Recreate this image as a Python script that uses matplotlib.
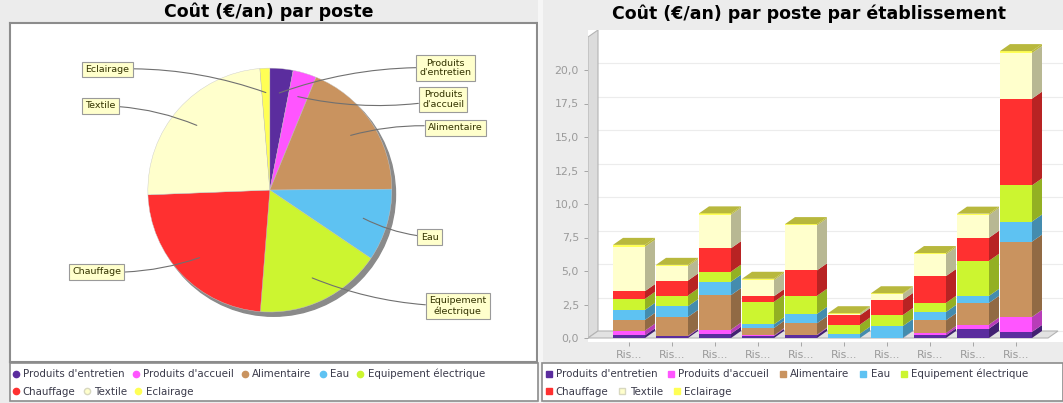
import numpy as np
import matplotlib.pyplot as plt
import matplotlib.colors as mcolors
from matplotlib.lines import Line2D
from matplotlib.patches import Circle, Polygon, Rectangle

W, H = 1063, 403

postes = ["Produits d'entretien", "Produits d'accueil", 'Alimentaire', 'Eau',
          'Equipement électrique', 'Chauffage', 'Textile', 'Eclairage']
pie_labels = ["Produits\nd'entretien", "Produits\nd'accueil", 'Alimentaire', 'Eau',
              'Equipement\nélectrique', 'Chauffage', 'Textile', 'Eclairage']
couleurs = ['#5b2d9e', '#ff55ff', '#c9935f', '#5ec2f2',
            '#ccf530', '#ff3030', '#ffffcc', '#ffff55']

etablissements = ['Ris...'] * 10
entretien = [0.2, 0.12, 0.32, 0.15, 0.2, 0.0, 0.02, 0.2, 0.7, 0.45]
accueil = [0.35, 0.05, 0.3, 0.05, 0.05, 0.0, 0.0, 0.17, 0.3, 1.12]
alimentaire = [0.8, 1.4, 2.58, 0.55, 0.85, 0.0, 0.0, 0.95, 1.62, 5.62]
eau = [0.75, 0.8, 1.0, 0.27, 0.7, 0.32, 0.88, 0.62, 0.52, 1.5]
equipement = [0.82, 0.8, 0.75, 1.68, 1.35, 0.68, 0.82, 0.68, 2.62, 2.7]
chauffage = [0.58, 1.12, 1.75, 0.42, 1.9, 0.7, 1.12, 2.0, 1.72, 6.47]
textile = [3.3, 1.07, 2.5, 1.2, 3.35, 0.1, 0.45, 1.62, 1.7, 3.4]
eclairage = [0.15, 0.1, 0.1, 0.1, 0.1, 0.05, 0.05, 0.1, 0.1, 0.15]
series = [entretien, accueil, alimentaire, eau, equipement, chauffage, textile, eclairage]

y_ticks = [0, 2.5, 5, 7.5, 10, 12.5, 15, 17.5, 20]

# where the pie labels sit (pie units, centre = 0,0)
label_pos = [(1.44, 1.0), (1.42, 0.74), (1.52, 0.51), (1.31, -0.385),
             (1.54, -0.95), (-1.42, -0.67), (-1.39, 0.69), (-1.33, 0.99)]


def box(x, y, w, h):
    # pixel box (top-left origin) -> figure fraction
    return [x / W, 1 - (y + h) / H, w / W, h / H]


def darker(c, f=0.72):
    r, g, b = mcolors.to_rgb(c)
    return (r * f, g * f, b * f)


fig = plt.figure(figsize=(W / 100, H / 100), dpi=100, facecolor='#ececec')

# panel gap + legend boxes
fig.patches.append(Rectangle((538 / W, 0), 5 / W, 1, transform=fig.transFigure,
                             fc='#f6f6f6', ec='none', zorder=0))
for bx in [(10, 363, 528, 38), (542, 363, 521, 38)]:
    fig.patches.append(Rectangle((bx[0] / W, 1 - (bx[1] + bx[3]) / H), bx[2] / W, bx[3] / H,
                                 transform=fig.transFigure, fc='white', ec='#8c8c8c', lw=1.2))

# ---- pie ----
ax1 = fig.add_axes(box(10, 23, 527, 339))
totals = [sum(s) for s in series]
wedges, _ = ax1.pie(totals, colors=couleurs, startangle=90, counterclock=False, radius=1,
                    wedgeprops=dict(linewidth=0.3, edgecolor='#c8c8c8'))
ax1.add_patch(Circle((0.03, -0.035), 1.0, color='#8a8a8a', zorder=0))
ax1.set_aspect('auto')
ax1.set_xlim(-2.13, 2.19)
ax1.set_ylim(-1.41, 1.37)
ax1.set_frame_on(True)
ax1.set_facecolor('white')
for sp in ax1.spines.values():
    sp.set_color('#8c8c8c')
    sp.set_linewidth(1.5)

for w, lab, pos in zip(wedges, pie_labels, label_pos):
    mid = np.radians((w.theta1 + w.theta2) / 2)
    tgt = (0.8 * np.cos(mid), 0.8 * np.sin(mid))
    rad = 0.1 * np.sign(pos[0]) * np.sign(pos[1] - tgt[1])
    ax1.annotate(lab, xy=tgt, xytext=pos, ha='center', va='center', fontsize=6.8,
                 color='#333300', linespacing=1.1,
                 bbox=dict(boxstyle='square,pad=0.35', fc='#ffffcc', ec='#9a9a9a', lw=0.8),
                 arrowprops=dict(arrowstyle='-', color='#707070', lw=0.8,
                                 connectionstyle=f'arc3,rad={rad}', shrinkA=0, shrinkB=0))

fig.text(269 / W, 1 - 12 / H, 'Coût (€/an) par poste', ha='center', va='center',
         fontsize=12.5, fontweight='bold')

# ---- 3D-look stacked bars ----
ax2 = fig.add_axes(box(588, 30, 475, 312))
xppu, yppu = 43.0, 13.4          # pixels per data unit
x_first, y_zero = 629, 338       # pixel position of first bar centre / zero line
xl = (588 - x_first) / xppu
xr = (1063 - x_first) / xppu
ytop = (y_zero - 30) / yppu
ax2.set_xlim(xl, xr)
ax2.set_ylim(-(342 - y_zero) / yppu, ytop)
dx, dy = 10 / xppu, 7 / yppu
bw = 32 / xppu
x_floor = (1048 - x_first) / xppu

ax2.set_facecolor('white')
for sp in ax2.spines.values():
    sp.set_visible(False)

for t in y_ticks:
    ax2.plot([xl + dx, xr], [t + dy, t + dy], color='#ececec', lw=0.8, zorder=1)
ax2.add_patch(Polygon([(xl, 0), (xl + dx, dy), (xl + dx, ytop), (xl, ytop - dy)],
                      fc='#dcdcdc', ec='#b4b4b4', lw=0.8, zorder=2))
ax2.add_patch(Polygon([(xl, 0), (x_floor, 0), (x_floor + dx, dy), (xl + dx, dy)],
                      fc='#e2e2e2', ec='#b4b4b4', lw=0.8, zorder=2))

x = np.arange(len(etablissements))
bottom = np.zeros(len(x))
for vals, col in zip(series, couleurs):
    vals = np.array(vals)
    ax2.bar(x, vals, width=bw, bottom=bottom, color=col, zorder=3)
    for xi, b, v in zip(x, bottom, vals):
        if v <= 0:
            continue
        ax2.add_patch(Polygon([(xi + bw / 2, b), (xi + bw / 2 + dx, b + dy),
                               (xi + bw / 2 + dx, b + v + dy), (xi + bw / 2, b + v)],
                              fc=darker(col), ec='none', zorder=3))
    bottom += vals
for xi, t in zip(x, bottom):
    ax2.add_patch(Polygon([(xi - bw / 2, t), (xi + bw / 2, t),
                           (xi + bw / 2 + dx, t + dy), (xi - bw / 2 + dx, t + dy)],
                          fc=darker(couleurs[-1]), ec='none', zorder=3))

ax2.set_yticks(y_ticks)
ax2.set_yticklabels([f'{t:.1f}'.replace('.', ',') for t in y_ticks])
ax2.set_xticks(x)
ax2.set_xticklabels(etablissements)
ax2.tick_params(colors='#9a9a9a', labelsize=7.8, length=3, width=0.6)
ax2.tick_params(axis='x', pad=3)

fig.text(809 / W, 1 - 14 / H, 'Coût (€/an) par poste par établissement', ha='center',
         va='center', fontsize=12.5, fontweight='bold')


# ---- legends (two flow rows each) ----
def legend_rows(x_px, marker, spacing):
    rows = [list(range(5)), list(range(5, 8))]
    for row, y_px in zip(rows, [374, 392]):
        hs = []
        for i in row:
            ec = '#d8d8c0' if postes[i] == 'Textile' else couleurs[i]
            hs.append(Line2D([], [], ls='', marker=marker, ms=4.5, mfc=couleurs[i], mec=ec))
        fig.legend(hs, [postes[i] for i in row], loc='center left',
                   bbox_to_anchor=(x_px / W, 1 - y_px / H), ncol=len(row), frameon=False,
                   fontsize=7.4, labelcolor='#3a3a4a', handlelength=0.7, handletextpad=0.35,
                   columnspacing=spacing, borderpad=0, borderaxespad=0)


legend_rows(12, 'o', 0.75)
legend_rows(545, 's', 1.0)

fig.savefig('out.png', dpi=100, facecolor=fig.get_facecolor())
